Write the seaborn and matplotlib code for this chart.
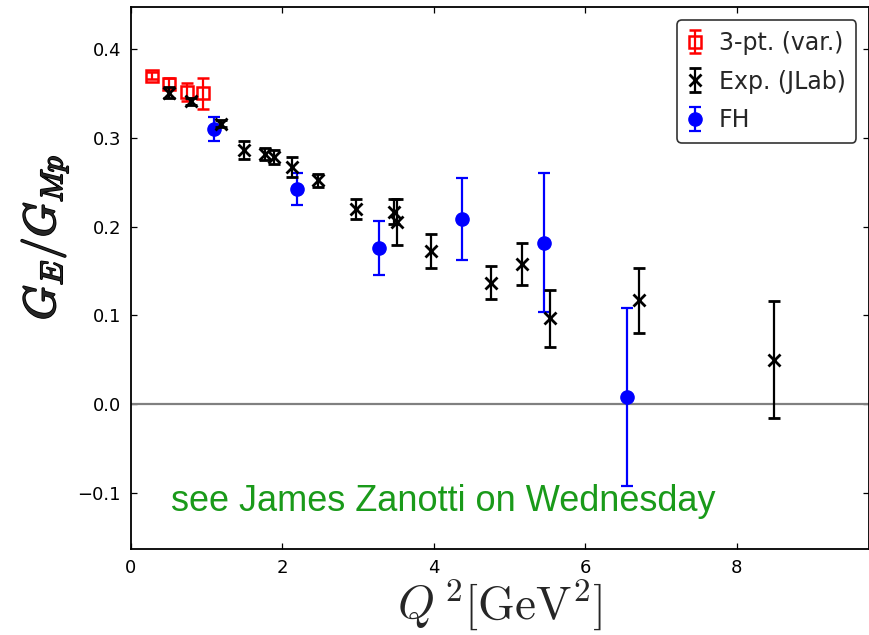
import numpy as np
import pandas as pd
import seaborn as sns
import matplotlib
matplotlib.use("Agg")
import matplotlib.pyplot as plt
import matplotlib.patheffects as pe

# ---- data ----
q2_3pt = [0.28, 0.51, 0.75, 0.96]
r_3pt = [0.370, 0.361, 0.352, 0.350]
e_3pt = [0.004, 0.006, 0.010, 0.017]

q2_exp = [0.50, 0.79, 1.19, 1.49, 1.77, 1.89, 2.13, 2.47, 2.97, 3.47, 3.52,
          3.97, 4.75, 5.17, 5.54, 6.71, 8.49]
r_exp = [0.351, 0.341, 0.316, 0.286, 0.282, 0.278, 0.267, 0.252, 0.220, 0.217, 0.205,
         0.173, 0.137, 0.158, 0.097, 0.117, 0.050]
e_exp = [0.006, 0.004, 0.004, 0.010, 0.007, 0.008, 0.011, 0.007, 0.011, 0.014, 0.026,
         0.019, 0.019, 0.024, 0.032, 0.037, 0.066]

q2_fh = [1.10, 2.19, 3.28, 4.37, 5.46, 6.55]
r_fh = [0.310, 0.242, 0.176, 0.209, 0.182, 0.008]
e_fh = [0.013, 0.018, 0.030, 0.046, 0.078, 0.100]

labels = ["3-pt. (var.)", "Exp. (JLab)", "FH"]
note = "see James Zanotti on Wednesday"

sns.set_style("ticks")
plt.rcParams["font.family"] = ["DejaVu Sans"]
plt.rcParams["mathtext.fontset"] = "cm"

fig = plt.figure(figsize=(8.7, 6.35), dpi=100)
ax = fig.add_axes([0.1502, 0.1354, 0.849, 0.8531])

ax.axhline(0.0, color="#808080", lw=1.6, zorder=1)

h1 = ax.errorbar(q2_3pt, r_3pt, yerr=e_3pt, fmt="s", color="red", mfc="none",
                 mec="red", ms=8.5, mew=1.8, elinewidth=1.6, capsize=4, capthick=1.6,
                 zorder=3)
h3 = ax.errorbar(q2_fh, r_fh, yerr=e_fh, fmt="o", color="blue", ms=9.5,
                 elinewidth=1.6, capsize=4, capthick=1.6, zorder=4)
h2 = ax.errorbar(q2_exp, r_exp, yerr=e_exp, fmt="x", color="black", ms=8.5, mew=2,
                 elinewidth=1.6, capsize=4, capthick=1.6, zorder=5)

ax.set_xlim(0, 9.75)
ax.set_ylim(-0.163, 0.447)
ax.set_xticks([0, 2, 4, 6, 8])
ax.set_yticks([-0.1, 0.0, 0.1, 0.2, 0.3, 0.4])
ax.set_yticklabels(["\u22120.1", "0.0", "0.1", "0.2", "0.3", "0.4"])
ax.tick_params(direction="in", top=True, right=True, length=4, width=0.9,
               labelsize=13, pad=7, colors="black")
for s in ax.spines.values():
    s.set_linewidth(1.3)
    s.set_color("black")

ax.set_xlabel(r"$Q^{\,2}[\mathrm{GeV}^2]$", fontsize=34, labelpad=0)
yl = ax.set_ylabel(r"$G_E/G_{Mp}$", fontsize=32)
yl.set_path_effects([pe.withStroke(linewidth=1.3, foreground="black")])
ax.yaxis.set_label_coords(-0.082, 0.575)

leg = ax.legend([h1, h2, h3], labels, loc="upper right", fontsize=17,
                frameon=True, fancybox=True, numpoints=1, handlelength=0.6,
                handletextpad=0.7, borderpad=0.45, labelspacing=0.62,
                borderaxespad=0.55)
leg.get_frame().set_edgecolor("black")
leg.get_frame().set_linewidth(1.2)

ax.text(0.423, 0.088, note, transform=ax.transAxes, ha="center", va="center",
        fontsize=26, color="#1a9a1a", family=["Liberation Sans", "DejaVu Sans"])

fig.savefig("out.png", dpi=100)
